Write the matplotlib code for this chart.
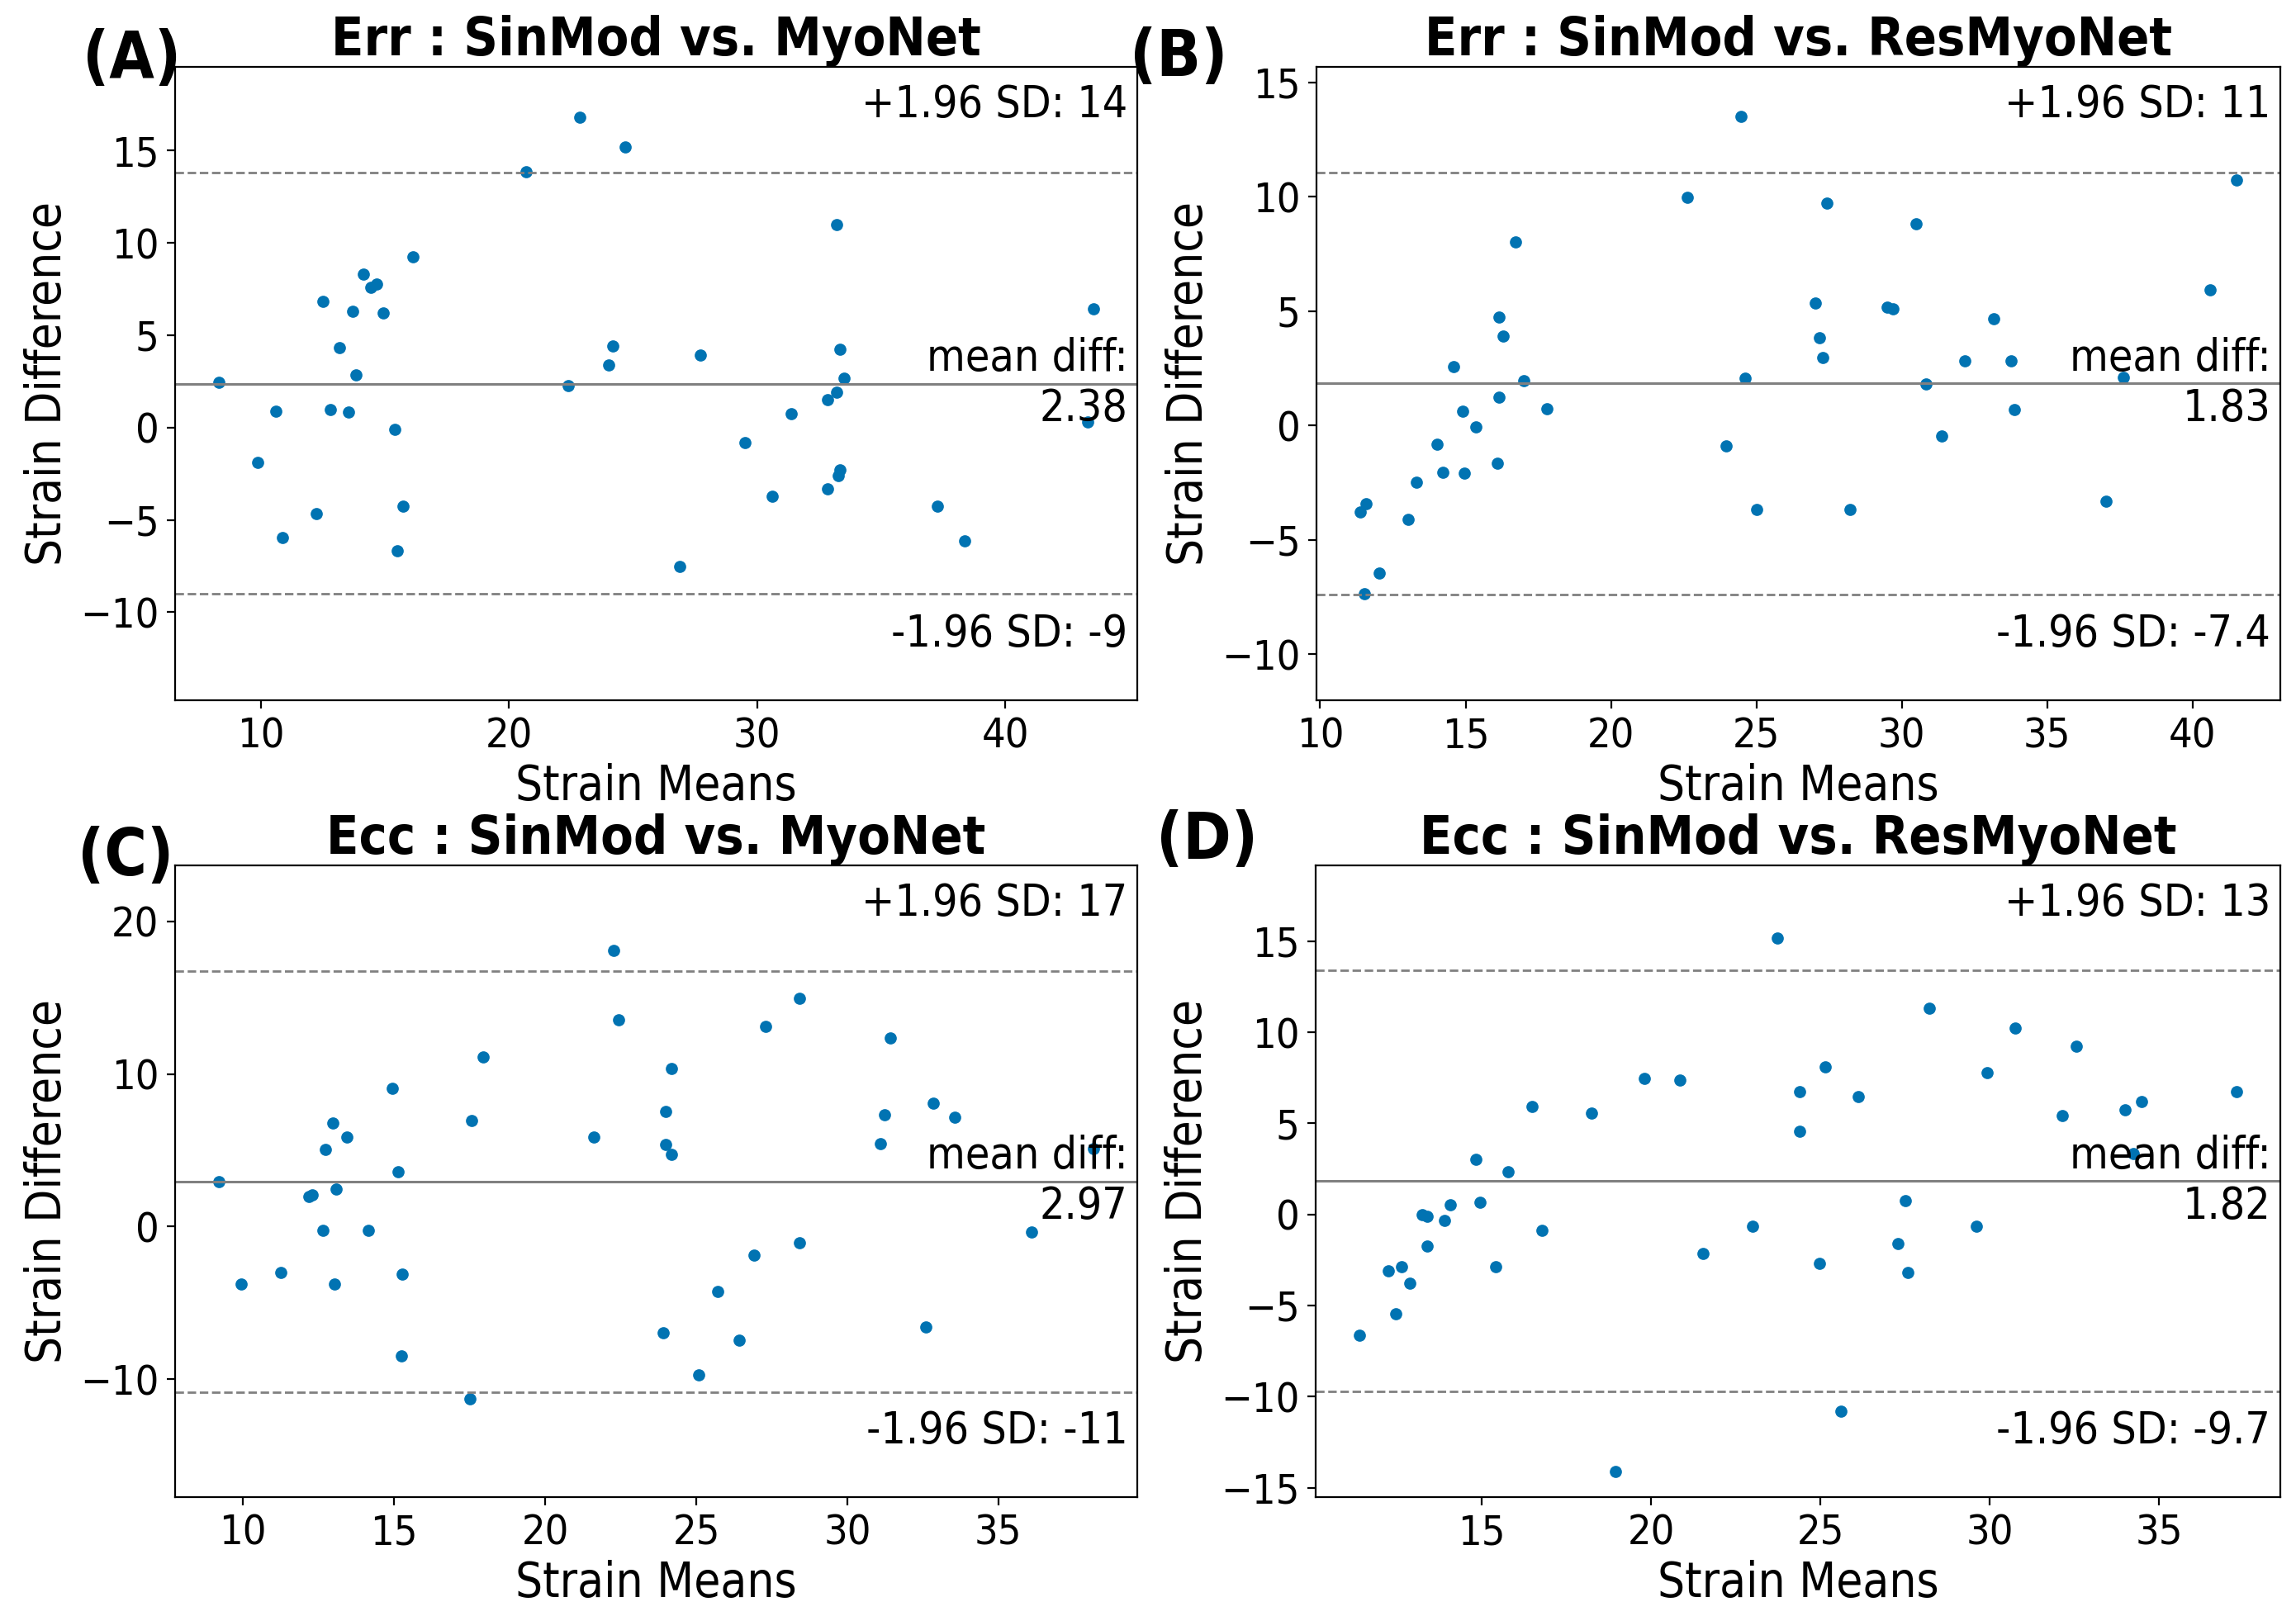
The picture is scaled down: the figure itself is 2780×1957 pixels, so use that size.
import matplotlib
matplotlib.use("Agg")
import matplotlib.pyplot as plt
from matplotlib import font_manager
from matplotlib.ticker import MultipleLocator
import numpy as np

# Bland-Altman data (means, differences)
a_means = [8.31, 9.88, 10.62, 10.86, 12.25, 12.52, 12.79, 13.17, 13.53, 13.71, 13.82,
           14.15, 14.45, 14.68, 14.92, 15.40, 15.72, 15.51, 16.14, 20.70, 22.39, 22.87,
           24.02, 24.20, 24.70, 26.90, 27.73, 29.50, 30.60, 31.38, 32.83, 32.83, 33.21,
           33.21, 33.27, 33.33, 33.33, 33.51, 37.28, 38.37, 43.32, 43.56]
a_diffs = [2.46, -1.90, 0.89, -5.98, -4.64, 6.84, 0.98, 4.33, 0.84, 6.28, 2.85,
           8.32, 7.60, 7.77, 6.20, -0.11, -4.25, -6.68, 9.25, 13.85, 2.29, 16.82,
           3.38, 4.41, 15.17, -7.54, 3.94, -0.81, -3.72, 0.75, 1.51, -3.30, 10.98,
           1.90, -2.60, -2.29, 4.25, 2.68, -4.25, -6.12, 0.31, 6.42]

b_means = [11.38, 11.58, 11.53, 12.04, 13.02, 13.32, 14.02, 14.22, 14.60, 14.90, 14.95,
           15.36, 16.08, 16.14, 16.14, 16.29, 16.71, 16.99, 17.79, 22.62, 23.96, 24.46,
           24.61, 25.01, 27.02, 27.17, 27.27, 27.42, 28.23, 29.49, 29.69, 30.49, 30.84,
           31.37, 32.18, 33.16, 33.76, 33.86, 37.03, 37.61, 40.60, 41.51]
b_diffs = [-3.80, -3.42, -7.35, -6.45, -4.12, -2.49, -0.84, -2.04, 2.58, 0.61, -2.10,
           -0.07, -1.65, 4.73, 1.24, 3.89, 8.01, 1.95, 0.72, 9.98, -0.90, 13.51,
           2.06, -3.69, 5.34, 3.82, 2.96, 9.73, -3.69, 5.16, 5.09, 8.82, 1.81,
           -0.48, 2.83, 4.66, 2.83, 0.68, -3.30, 2.10, 5.93, 10.72]

c_means = [9.20, 9.95, 11.24, 12.19, 12.29, 12.65, 12.73, 12.97, 13.04, 13.09, 13.43,
           14.14, 14.94, 15.14, 15.28, 15.23, 17.52, 17.57, 17.94, 21.61, 22.27, 22.42,
           23.90, 23.98, 23.98, 24.17, 24.17, 25.07, 25.70, 26.41, 26.92, 27.31, 28.41,
           28.41, 31.09, 31.23, 31.43, 32.60, 32.84, 33.57, 36.10, 38.15]
c_diffs = [2.93, -3.77, -3.03, 1.99, 2.09, -0.27, 5.08, 6.80, -3.77, 2.46, 5.86,
           -0.27, 9.06, 3.57, -3.13, -8.48, -11.31, 6.97, 11.11, 5.86, 18.08, 13.57,
           -6.97, 7.54, 5.39, 10.34, 4.71, -9.73, -4.24, -7.44, -1.89, 13.10, 14.98,
           -1.04, 5.45, 7.34, 12.36, -6.60, 8.11, 7.17, -0.37, 5.12]

d_means = [11.39, 12.25, 12.47, 12.62, 12.88, 13.25, 13.40, 13.40, 13.90, 14.07, 14.83,
           14.94, 15.41, 15.78, 16.49, 16.79, 18.24, 18.94, 19.80, 20.84, 21.53, 23.00,
           23.74, 24.38, 24.38, 24.97, 25.14, 25.62, 26.11, 27.30, 27.52, 27.58, 28.21,
           29.62, 29.92, 30.76, 32.15, 32.56, 34.01, 34.24, 34.48, 37.29]
d_diffs = [-6.65, -3.10, -5.46, -2.85, -3.80, -0.03, -0.11, -1.75, -0.34, 0.54, 3.04,
           0.68, -2.85, 2.34, 5.94, -0.87, 5.58, -14.11, 7.46, 7.38, -2.14, -0.65,
           15.18, 6.73, 4.56, -2.70, 8.11, -10.82, 6.45, -1.61, 0.76, -3.18, 11.32,
           -0.65, 7.77, 10.23, 5.41, 9.21, 5.72, 3.35, 6.20, 6.73]

# mean difference and limits of agreement for each panel
mean_diffs = [2.38, 1.83, 2.97, 1.82]
upper_limits = [13.81, 11.06, 16.77, 13.38]
lower_limits = [-9.02, -7.40, -10.83, -9.74]

titles = ["Err : SinMod vs. MyoNet", "Err : SinMod vs. ResMyoNet",
          "Ecc : SinMod vs. MyoNet", "Ecc : SinMod vs. ResMyoNet"]
panel_labels = ["(A)", "(B)", "(C)", "(D)"]
x_steps = [10, 5, 5, 5]

all_means = [a_means, b_means, c_means, d_means]
all_diffs = [a_diffs, b_diffs, c_diffs, d_diffs]

# the reference text is tall and narrow: use DejaVu Sans Condensed if it is there
condensed = any(f.name == "DejaVu Sans" and f.stretch == "condensed"
                for f in font_manager.fontManager.ttflist)
if condensed:
    plt.rcParams["font.stretch"] = "condensed"
    k = 1.13
else:
    k = 1.0

# axes boxes in pixels of the 2780x1957 image: left, top, right, bottom
boxes = [(212, 81, 1377, 848), (1594, 81, 2761, 848),
         (212, 1048, 1377, 1813), (1593, 1048, 2761, 1813)]
# panel label anchor (right edge, baseline) in pixels
label_pos = [(219, 94), (1486, 92), (210, 1060), (1523, 1040)]

W, H = 2780, 1957
fig = plt.figure(figsize=(W / 200, H / 200), dpi=200)

for i in range(4):
    l, t, r, b = boxes[i]
    ax = fig.add_axes([l / W, 1 - b / H, (r - l) / W, (b - t) / H])
    ax.scatter(all_means[i], all_diffs[i], s=28, color="#0173b2", linewidths=0)
    md = mean_diffs[i]
    ax.axhline(md, color="gray", linewidth=1.1)
    ax.axhline(upper_limits[i], color="gray", linewidth=1, linestyle="--")
    ax.axhline(lower_limits[i], color="gray", linewidth=1, linestyle="--")
    half = 1.5 * (upper_limits[i] - md)
    ax.set_ylim(md - half, md + half)
    ax.xaxis.set_major_locator(MultipleLocator(x_steps[i]))

    ax.annotate("mean diff:\n{}".format(np.round(md, 2)), xy=(0.99, 0.5),
                ha="right", va="center", fontsize=17 * k, xycoords="axes fraction")
    ax.annotate(f"-1.96 SD: {lower_limits[i]:0.2g}", xy=(0.99, 0.07),
                ha="right", va="bottom", fontsize=17 * k, xycoords="axes fraction")
    ax.annotate(f"+1.96 SD: {upper_limits[i]:0.2g}", xy=(0.99, 0.92),
                ha="right", fontsize=17 * k, xycoords="axes fraction")

    ax.set_ylabel("Strain Difference", fontsize=18.5 * k)
    ax.set_xlabel("Strain Means", fontsize=18.5 * k, labelpad=3)
    ax.tick_params(labelsize=16 * k)
    ax.set_title(titles[i], fontsize=20.5 * k, fontweight="bold", pad=5)

    fig.text(label_pos[i][0] / W, 1 - label_pos[i][1] / H, panel_labels[i],
             ha="right", va="baseline", fontsize=25 * k, fontweight="bold")

fig.savefig("out.png", dpi=200)
